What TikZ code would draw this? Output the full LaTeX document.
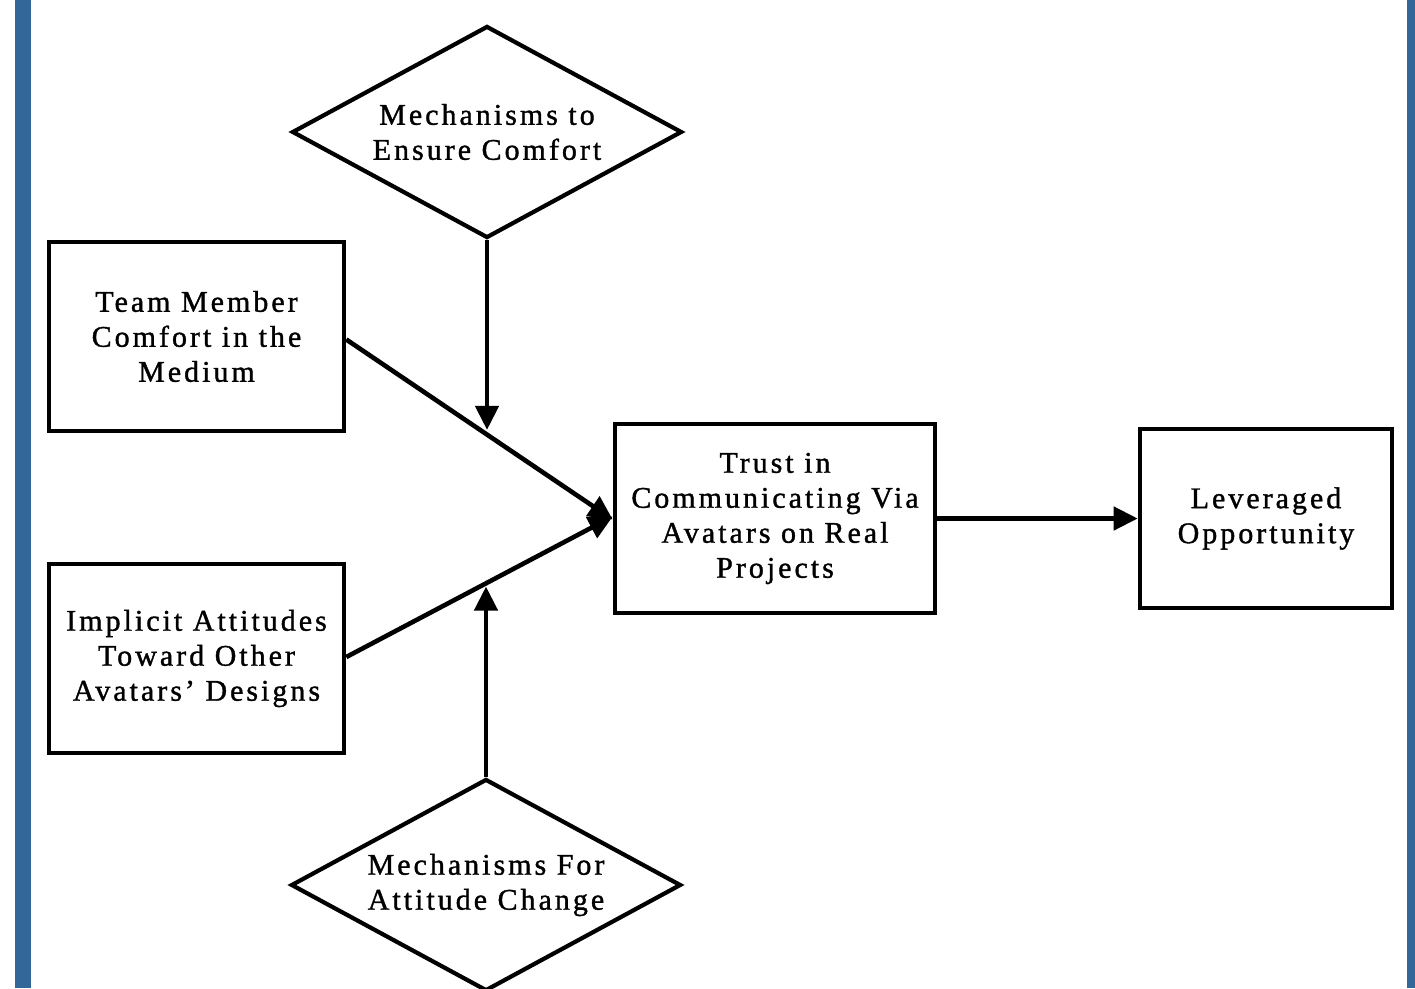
\documentclass[tikz,border=0pt]{standalone}
\usepackage{fontspec}
\setmainfont{Liberation Serif}[LetterSpace=10,FakeBold=1.2]
\usetikzlibrary{shapes.geometric,arrows.meta,calc}
\definecolor{barblue}{RGB}{52,103,153}
\tikzset{
  every node/.style={font=\fontsize{30}{35}\selectfont, align=center, text=black},
  box/.style={draw, line width=4.6pt, rectangle, inner sep=0pt},
  deci/.style={draw, line width=4.2pt, diamond, aspect=1.84, minimum width=390pt, minimum height=212pt, inner sep=0pt},
  conn/.style={line width=4.6pt, -{Triangle[length=24pt,width=23pt]}},
}
\begin{document}
\begin{tikzpicture}[x=1pt,y=-1pt]
\useasboundingbox (0,0) rectangle (1415,988);
\fill[barblue] (15,0) rectangle (31,988);
\fill[barblue] (1407,0) rectangle (1415,988);
\node[box, minimum width=295pt, minimum height=189pt] (team) at (196.5,336.5) {Team Member\\Comfort in the\\Medium};
\node[box, minimum width=295pt, minimum height=189pt] (impl) at (196.5,658.5) {Implicit Attitudes\\Toward Other\\Avatars' Designs};
\node[box, minimum width=320pt, minimum height=189pt] (trust) at (775,518.5) {Trust in\\Communicating Via\\Avatars on Real\\Projects};
\node[box, minimum width=252pt, minimum height=179pt] (lev) at (1266,518.5) {Leveraged\\Opportunity};
\node[deci] (top) at (487,132) {Mechanisms to\\Ensure Comfort};
\node[deci] (bot) at (486,885) {Mechanisms For\\Attitude Change};
\draw[conn] ([yshift=-3pt]team.east) -- ([yshift=-1pt]trust.west);
\draw[conn] ([yshift=1.5pt]impl.east) -- ([yshift=2pt]trust.west);
\coordinate (m1) at ($([yshift=-3pt]team.east)!0.53!([yshift=-1pt]trust.west)$);
\coordinate (m2) at ($([yshift=1.5pt]impl.east)!0.53!([yshift=2pt]trust.west)$);
\draw[conn, shorten >=5pt] (top.south) -- (top.south |- m1);
\draw[conn, shorten >=4pt] (bot.north) -- (bot.north |- m2);
\draw[conn] (trust.east) -- (lev.west);
\end{tikzpicture}
\end{document}
